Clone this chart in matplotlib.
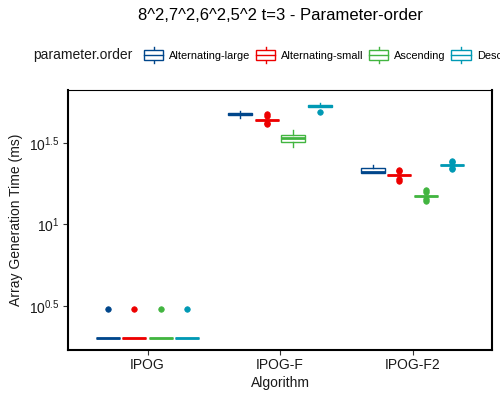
import numpy as np
import matplotlib
matplotlib.use("Agg")
import matplotlib.pyplot as plt
from matplotlib.legend_handler import HandlerBase
from matplotlib.patches import Rectangle, Patch
from matplotlib.lines import Line2D
from matplotlib.ticker import NullLocator

plt.rcParams['font.family'] = ['Liberation Sans', 'DejaVu Sans']
plt.rcParams['mathtext.fontset'] = 'custom'
plt.rcParams['mathtext.rm'] = 'Liberation Sans'
plt.rcParams['mathtext.it'] = 'Liberation Sans:italic'

# ---- data ----
algorithms = ["IPOG", "IPOG-F", "IPOG-F2"]
orders = ["Alternating-large", "Alternating-small", "Ascending", "Descending"]
colors = ["#00468B", "#ED0000", "#42B540", "#0099B4"]

ipog_alt_large = [2, 2, 2, 2, 2, 2, 2, 2, 2, 3]
ipog_alt_small = [2, 2, 2, 2, 2, 2, 2, 2, 2, 3]
ipog_ascending = [2, 2, 2, 2, 2, 2, 2, 2, 2, 3]
ipog_descending = [2, 2, 2, 2, 2, 2, 2, 2, 2, 3]

ipogf_alt_large = [45.0, 46.5, 47.0, 47.0, 47.6, 47.8, 48.3, 48.7, 49.2, 50.2]
ipogf_alt_small = [41.3, 42.3, 44.0, 44.0, 44.0, 44.0, 44.0, 44.0, 46.8, 47.9]
ipogf_ascending = [30.1, 31.5, 32.3, 32.8, 33.8, 34.4, 35.2, 35.8, 37.0, 38.2]
ipogf_descending = [49.5, 52.6, 52.8, 52.9, 53.2, 53.4, 53.8, 54.1, 54.8, 55.6]

ipogf2_alt_large = [20.8, 20.8, 20.8, 20.8, 20.9, 21.1, 21.9, 22.3, 22.8, 23.2]
ipogf2_alt_small = [18.6, 19.0, 20.2, 20.2, 20.2, 20.2, 20.2, 20.2, 21.2, 21.6]
ipogf2_ascending = [13.9, 14.3, 15.0, 15.0, 15.0, 15.0, 15.0, 15.0, 15.8, 16.3]
ipogf2_descending = [22.0, 22.4, 23.3, 23.3, 23.3, 23.3, 23.3, 23.3, 24.2, 24.6]

data = {
    "IPOG": [ipog_alt_large, ipog_alt_small, ipog_ascending, ipog_descending],
    "IPOG-F": [ipogf_alt_large, ipogf_alt_small, ipogf_ascending, ipogf_descending],
    "IPOG-F2": [ipogf2_alt_large, ipogf2_alt_small, ipogf2_ascending, ipogf2_descending],
}

title = "8^2,7^2,6^2,5^2 t=3 - Parameter-order"
ytick_vals = [10 ** 0.5, 10 ** 1.0, 10 ** 1.5]
ytick_labels = [r"$10^{0.5}$", r"$10^{1}$", r"$10^{1.5}$"]

# ---- figure ----
fig = plt.figure(figsize=(5, 4), dpi=100)
ax = fig.add_axes([68 / 500, 1 - 350 / 400, (492 - 68) / 500, (350 - 90) / 400])

offsets = [-0.3, -0.1, 0.1, 0.3]
box_w = 0.18
for gi, alg in enumerate(algorithms):
    for oi, (vals, col) in enumerate(zip(data[alg], colors)):
        pos = gi + 1 + offsets[oi]
        ax.boxplot([vals], positions=[pos], widths=box_w, patch_artist=True,
                   showcaps=False, manage_ticks=False,
                   boxprops=dict(facecolor="white", edgecolor=col, linewidth=1.0),
                   medianprops=dict(color=col, linewidth=2.0, solid_capstyle="butt"),
                   whiskerprops=dict(color=col, linewidth=1.0),
                   flierprops=dict(marker="o", markerfacecolor=col, markeredgecolor=col,
                                   markersize=4.0, markeredgewidth=0.5))

ax.set_yscale("log")
ax.set_ylim(10 ** 0.2273, 10 ** 1.828)
ax.set_xlim(0.4, 3.6)
ax.set_yticks(ytick_vals)
ax.set_yticklabels(ytick_labels)
ax.yaxis.set_minor_locator(NullLocator())
ax.set_xticks([1, 2, 3])
ax.set_xticklabels(algorithms)

ax.tick_params(axis="both", which="major", length=3.5, width=0.8, color="#333333",
               labelsize=10, labelcolor="#1a1a1a", pad=2.5)
for side in ["left", "bottom", "right"]:
    ax.spines[side].set_linewidth(1.5)
ax.spines["top"].set_linewidth(0.8)
for s in ax.spines.values():
    s.set_color("black")

ax.set_xlabel("Algorithm", fontsize=10, color="#1a1a1a", labelpad=3)
ax.set_ylabel("Array Generation Time (ms)", fontsize=10, color="#1a1a1a", labelpad=4)

fig.text(280 / 500, 1 - 15 / 400, title, ha="center", va="center", fontsize=12)


class BoxHandler(HandlerBase):
    def create_artists(self, legend, orig_handle, xdescent, ydescent, width, height,
                       fontsize, trans):
        col = orig_handle.get_edgecolor()
        x0, y0 = -xdescent, -ydescent
        bh = height * 0.7
        by = y0 + (height - bh) / 2
        rect = Rectangle((x0, by), width, bh, facecolor="white", edgecolor=col,
                         linewidth=1.0, transform=trans)
        med = Line2D([x0, x0 + width], [y0 + height / 2] * 2, color=col, linewidth=1.0,
                     transform=trans)
        wt = Line2D([x0 + width / 2] * 2, [by + bh, y0 + height], color=col,
                    linewidth=1.0, transform=trans)
        wb = Line2D([x0 + width / 2] * 2, [y0, by], color=col, linewidth=1.0,
                    transform=trans)
        return [wt, wb, rect, med]


handles = [Patch(edgecolor=c, facecolor="white") for c in colors]
fig.text(33 / 500, 1 - 55 / 400, "parameter.order", ha="left", va="center",
         fontsize=10, color="#1a1a1a")
leg = fig.legend(handles, orders, loc="center left",
                 bbox_to_anchor=(144 / 500, 1 - 55 / 400), ncol=4, frameon=False,
                 fontsize=7.9, handlelength=1.75, handleheight=1.8,
                 handletextpad=0.55, columnspacing=0.5, borderpad=0,
                 borderaxespad=0,
                 handler_map={Patch: BoxHandler()})

fig.savefig("out.png", dpi=100)
